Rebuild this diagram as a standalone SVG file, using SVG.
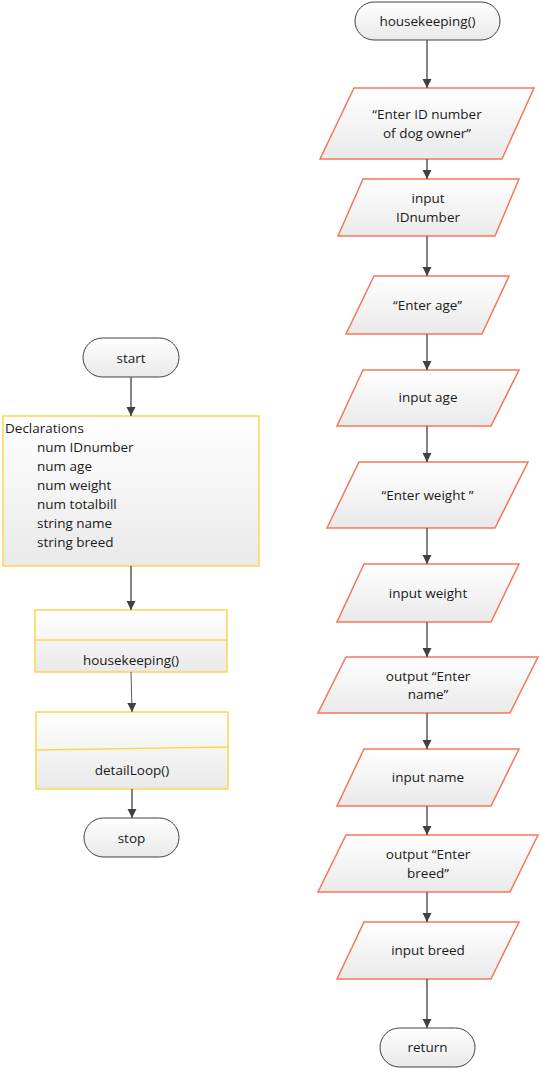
<svg xmlns="http://www.w3.org/2000/svg" width="542" height="1071" viewBox="0 0 542 1071">
<defs>
<linearGradient id="g" x1="0" y1="0" x2="0" y2="1">
<stop offset="0" stop-color="#ffffff"/>
<stop offset="1" stop-color="#e9e9e9"/>
</linearGradient>
<marker id="ah" markerUnits="userSpaceOnUse" markerWidth="10" markerHeight="10" refX="9" refY="4.5" orient="auto">
<path d="M0,0 L9,4.5 L0,9 Z" fill="#404040"/>
</marker>
</defs>
<style>
text{font-family:"Open Sans","Liberation Sans",Arial,sans-serif;font-size:13.5px;fill:#1a1a1a}
.c{text-anchor:middle}
.term{fill:url(#g);stroke:#404040;stroke-width:1}
.proc{fill:url(#g);stroke:#ffd54f;stroke-width:1.5}
.io{fill:url(#g);stroke:#f4775a;stroke-width:1.5}
.div{stroke:#ffd54f;stroke-width:1.5;fill:none}
.cn line{stroke:#5a5a5a;stroke-width:1.5;marker-end:url(#ah)}
</style>
<rect width="542" height="1071" fill="#ffffff"/>

<g id="start"><rect class="term" x="83" y="338" width="96" height="39" rx="19.5"/><text class="c" x="131" y="363">start</text></g>
<g id="declarations"><rect class="proc" x="3" y="416" width="256" height="150"/>
<text x="5" y="433">Declarations</text>
<text x="37" y="452">num IDnumber</text>
<text x="37" y="471">num age</text>
<text x="37" y="490">num weight</text>
<text x="37" y="509">num totalbill</text>
<text x="37" y="528">string name</text>
<text x="37" y="547">string breed</text></g>
<g id="call-housekeeping"><rect class="proc" x="35" y="610" width="192" height="62"/><line class="div" x1="35" y1="640" x2="227" y2="640"/><text class="c" x="131" y="665">housekeeping()</text></g>
<g id="call-detailLoop"><rect class="proc" x="36" y="712" width="192" height="77"/><line class="div" x1="36" y1="750" x2="228" y2="747"/><text class="c" x="132" y="775">detailLoop()</text></g>
<g id="stop"><rect class="term" x="84" y="818" width="95" height="39" rx="19.5"/><text class="c" x="131.5" y="843">stop</text></g>

<g id="housekeeping"><rect class="term" x="355" y="2" width="145" height="38" rx="19"/><text class="c" x="427.5" y="26">housekeeping()</text></g>
<g id="enter-id"><polygon class="io" points="354,88 534,88 502,159 320,159"/><text class="c" x="427" y="119">“Enter ID number</text><text class="c" x="427" y="138">of dog owner”</text></g>
<g id="input-id"><polygon class="io" points="363,179 519,179 495,236 338,236"/><text class="c" x="428" y="203">input</text><text class="c" x="428" y="222">IDnumber</text></g>
<g id="enter-age"><polygon class="io" points="374,276 509,276 482,334 346,334"/><text class="c" x="427.5" y="310">“Enter age”</text></g>
<g id="input-age"><polygon class="io" points="363,370 519,370 491,426 337,426"/><text class="c" x="428" y="402">input age</text></g>
<g id="enter-weight"><polygon class="io" points="359,462 528,462 495,528 327,528"/><text class="c" x="427.5" y="500">“Enter weight ”</text></g>
<g id="input-weight"><polygon class="io" points="364,564 519,564 491,622 337,622"/><text class="c" x="428" y="598">input weight</text></g>
<g id="enter-name"><polygon class="io" points="346,657 538,657 510,713 318,713"/><text class="c" x="428" y="681">output “Enter</text><text class="c" x="428" y="699">name”</text></g>
<g id="input-name"><polygon class="io" points="364,749 519,749 491,806 337,806"/><text class="c" x="428" y="782">input name</text></g>
<g id="enter-breed"><polygon class="io" points="346,835 538,835 510,892 318,892"/><text class="c" x="428" y="859">output “Enter</text><text class="c" x="428" y="878">breed”</text></g>
<g id="input-breed"><polygon class="io" points="364,922 519,922 491,979 337,979"/><text class="c" x="428" y="955">input breed</text></g>
<g id="return"><rect class="term" x="380" y="1028" width="95" height="39" rx="19.5"/><text class="c" x="427.5" y="1052">return</text></g>

<g id="connectors" class="cn">
<line x1="131" y1="377" x2="131" y2="416"/>
<line x1="131" y1="566" x2="131" y2="610"/>
<line x1="131" y1="672" x2="132" y2="712" style="stroke-width:1"/>
<line x1="132" y1="789" x2="132" y2="818"/>
<line x1="427" y1="40" x2="427" y2="88"/>
<line x1="427" y1="159" x2="427" y2="179"/>
<line x1="427" y1="236" x2="427" y2="276"/>
<line x1="427" y1="334" x2="427" y2="370"/>
<line x1="427" y1="426" x2="427" y2="462"/>
<line x1="427" y1="528" x2="427" y2="564"/>
<line x1="427" y1="622" x2="427" y2="657"/>
<line x1="427" y1="713" x2="427" y2="749"/>
<line x1="427" y1="806" x2="427" y2="835"/>
<line x1="427" y1="892" x2="427" y2="922"/>
<line x1="427" y1="979" x2="427" y2="1028"/>
</g>
</svg>
